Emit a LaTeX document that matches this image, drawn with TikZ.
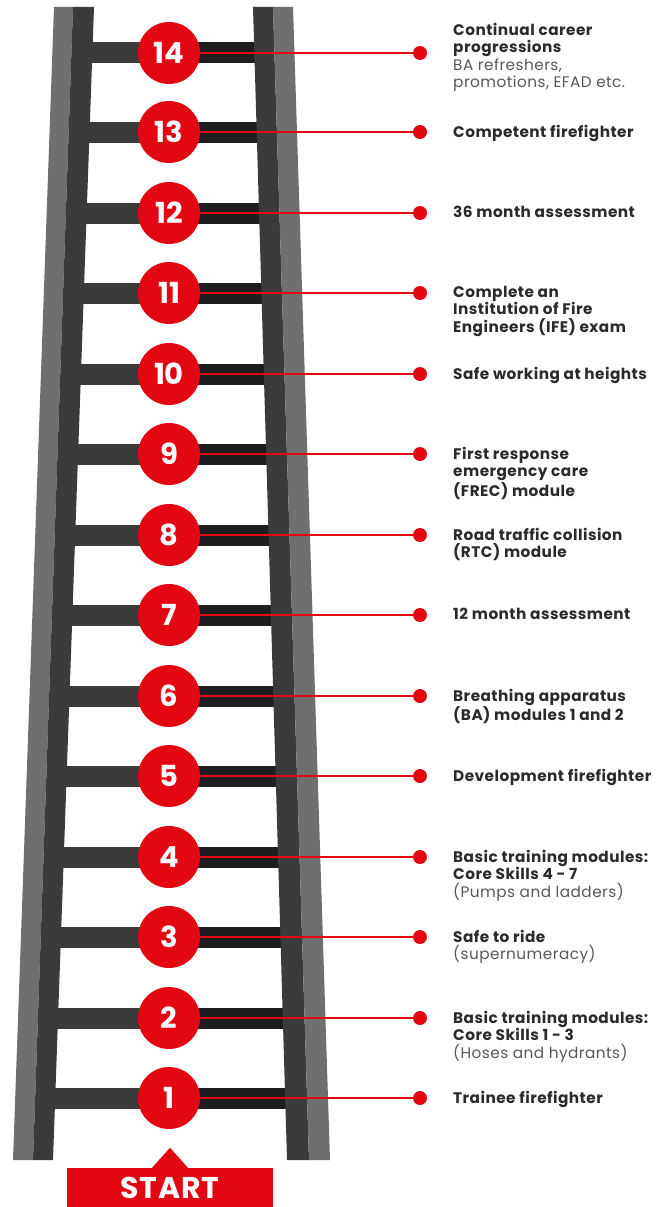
\documentclass[tikz,border=0pt]{standalone}
\usepackage{fontspec}
\setmainfont{Poppins}
\usepackage{tikz}
\definecolor{firered}{HTML}{E30613}
\definecolor{raildark}{HTML}{3B3B3B}
\definecolor{raillight}{HTML}{6F6F6F}
\definecolor{rungblack}{HTML}{1E1E1E}
\definecolor{inkdark}{HTML}{2A2A2A}
\definecolor{inkgrey}{HTML}{575757}
\tikzset{
stage/.style = { circle, fill = firered, minimum size = 62pt, inner sep = 0pt, text = white, font = \fontsize{29}{29}\selectfont\bfseries },
end dot/.style = { circle, fill = firered, minimum size = 14pt, inner sep = 0pt },
link/.style = { draw = firered, line width = 2.5pt },
caption/.style = { anchor = north west, align = left, inner sep = 0pt, text = inkdark, font = \fontsize{15.3}{17.4}\selectfont\bfseries\addfontfeature{LetterSpace = 3} },
start box/.style = { rectangle, fill = firered, minimum width = 206pt, minimum height = 39pt, inner sep = 0pt, text = white, font = \fontsize{30}{30}\selectfont\bfseries\addfontfeature{LetterSpace = 3} },
}
\newcommand{\note}[1]{{\mdseries\color{inkgrey}#1}}
\tikzset{
pics/rung/.style = {
        code = {
        \fill[raildark] (-140, -10.5) rectangle (0, 10.5);
        \fill[rungblack] (0, -10.5) rectangle (140, 10.5);
        }
    }
}

\begin{document}
\begin{tikzpicture}[x = 1pt, y = -1pt]
      \useasboundingbox (0, 0) rectangle (663, 1207);
      % rungs, cut at the middle of the rails
      \begin{scope}
      \clip (83, 7) -- (263, 7) -- (298, 1160) -- (43, 1160) -- cycle;
      \draw (169, 53) pic{rung};
      \draw (169, 132) pic{rung};
      \draw (169, 213) pic{rung};
      \draw (169, 293) pic{rung};
      \draw (169, 374) pic{rung};
      \draw (169, 454) pic{rung};
      \draw (169, 535) pic{rung};
      \draw (169, 615) pic{rung};
      \draw (169, 696) pic{rung};
      \draw (169, 776) pic{rung};
      \draw (169, 857) pic{rung};
      \draw (169, 937) pic{rung};
      \draw (169, 1018) pic{rung};
      \draw (169, 1098) pic{rung};
      \end{scope}
      % rails
      \fill[raillight] (54, 7) -- (73, 7) -- (33, 1160) -- (13, 1160) -- cycle;
      \fill[raildark] (73, 7) -- (94, 7) -- (53, 1160) -- (33, 1160) -- cycle;
      \fill[raildark] (253, 7) -- (273, 7) -- (309, 1160) -- (287, 1160) -- cycle;
      \fill[raillight] (273, 7) -- (293, 7) -- (330, 1160) -- (309, 1160) -- cycle;
      % steps
      \node[stage] (s14) at (169, 53) {14};
      \node[stage] (s13) at (169, 132) {13};
      \node[stage] (s12) at (169, 213) {12};
      \node[stage] (s11) at (169, 293) {11};
      \node[stage] (s10) at (169, 374) {10};
      \node[stage] (s9) at (169, 454) {9};
      \node[stage] (s8) at (169, 535) {8};
      \node[stage] (s7) at (169, 615) {7};
      \node[stage] (s6) at (169, 696) {6};
      \node[stage] (s5) at (169, 776) {5};
      \node[stage] (s4) at (169, 857) {4};
      \node[stage] (s3) at (169, 937) {3};
      \node[stage] (s2) at (169, 1018) {2};
      \node[stage] (s1) at (169, 1098) {1};
      \node[end dot] (d14) at (420, 53) {};
      \node[end dot] (d13) at (420, 132) {};
      \node[end dot] (d12) at (420, 213) {};
      \node[end dot] (d11) at (420, 293) {};
      \node[end dot] (d10) at (420, 374) {};
      \node[end dot] (d9) at (420, 454) {};
      \node[end dot] (d8) at (420, 535) {};
      \node[end dot] (d7) at (420, 615) {};
      \node[end dot] (d6) at (420, 696) {};
      \node[end dot] (d5) at (420, 776) {};
      \node[end dot] (d4) at (420, 857) {};
      \node[end dot] (d3) at (420, 937) {};
      \node[end dot] (d2) at (420, 1018) {};
      \node[end dot] (d1) at (420, 1098) {};
      \draw[link] (s14) -- (d14);
      \draw[link] (s13) -- (d13);
      \draw[link] (s12) -- (d12);
      \draw[link] (s11) -- (d11);
      \draw[link] (s10) -- (d10);
      \draw[link] (s9) -- (d9);
      \draw[link] (s8) -- (d8);
      \draw[link] (s7) -- (d7);
      \draw[link] (s6) -- (d6);
      \draw[link] (s5) -- (d5);
      \draw[link] (s4) -- (d4);
      \draw[link] (s3) -- (d3);
      \draw[link] (s2) -- (d2);
      \draw[link] (s1) -- (d1);
      % captions
      \node[caption] (t14) at (453, 23) {Continual career\\progressions\\\note{BA refreshers,}\\\note{promotions, EFAD etc.}};
      \node[caption] (t13) at (453, 125) {Competent firefighter};
      \node[caption] (t12) at (453, 206) {36 month assessment};
      \node[caption] (t11) at (453, 286) {Complete an\\Institution of Fire\\Engineers (IFE) exam};
      \node[caption] (t10) at (453, 367) {Safe working at heights};
      \node[caption] (t9) at (453, 447) {First response\\emergency care\\(FREC) module};
      \node[caption] (t8) at (453, 528) {Road traffic collision\\(RTC) module};
      \node[caption] (t7) at (453, 608) {12 month assessment};
      \node[caption] (t6) at (453, 689) {Breathing apparatus\\(BA) modules 1 and 2};
      \node[caption] (t5) at (453, 769) {Development firefighter};
      \node[caption] (t4) at (453, 850) {Basic training modules:\\Core Skills 4 - 7\\\note{(Pumps and ladders)}};
      \node[caption] (t3) at (453, 930) {Safe to ride\\\note{(supernumeracy)}};
      \node[caption] (t2) at (453, 1011) {Basic training modules:\\Core Skills 1 - 3\\\note{(Hoses and hydrants)}};
      \node[caption] (t1) at (453, 1091) {Trainee firefighter};
      % start marker
      \node[start box] (start) at (170, 1187.5) {START};
      \fill[firered] (start.north) ++(-18, 0) -- ++(18, -20) -- ++(18, 20) -- cycle;
    \end{tikzpicture}
\end{document}
